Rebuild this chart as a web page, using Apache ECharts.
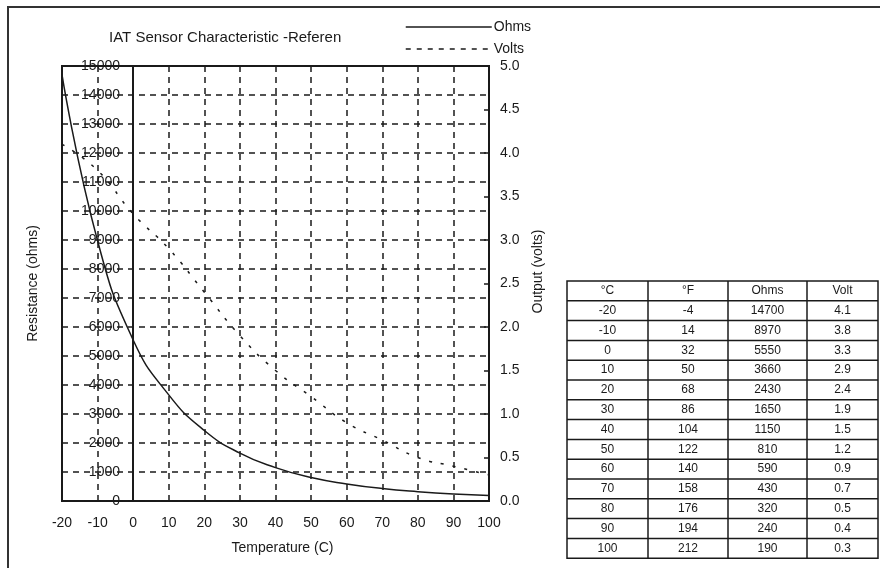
<!DOCTYPE html>
<html>
<head>
<meta charset="utf-8">
<script src="https://cdn.jsdelivr.net/npm/echarts@6/dist/echarts.min.js"></script>
<style>
  html, body { margin: 0; padding: 0; background: #fff; }
  #main { width: 880px; height: 568px; }
</style>
</head>
<body>
<div id="main"></div>
<script>
// 数据
var tempC = [-20, -10, 0, 10, 20, 30, 40, 50, 60, 70, 80, 90, 100];
var tempF = [-4, 14, 32, 50, 68, 86, 104, 122, 140, 158, 176, 194, 212];
var ohms = [14700, 8970, 5550, 3660, 2430, 1650, 1150, 810, 590, 430, 320, 240, 190];
var volts = [4.1, 3.8, 3.3, 2.9, 2.4, 1.9, 1.5, 1.2, 0.9, 0.7, 0.5, 0.4, 0.3];
var tableHead = ['°C', '°F', 'Ohms', 'Volt'];

var FONT = '"Liberation Sans", Arial, sans-serif';
var INK = '#1a1a1a';

var dom = document.getElementById('main');
var myChart = echarts.init(dom);

// 右侧表格
var colX = [567, 648, 728, 807, 878];
var rowTop = 281, rowH = 19.8;
var nRows = tempC.length + 1;
var tableEls = [];
tableEls.push({
  type: 'rect',
  shape: { x: colX[0], y: rowTop, width: colX[4] - colX[0], height: rowH * nRows },
  style: { fill: 'none', stroke: INK, lineWidth: 1.5 }
});
for (var r = 1; r < nRows; r++) {
  tableEls.push({
    type: 'line',
    shape: { x1: colX[0], y1: rowTop + r * rowH, x2: colX[4], y2: rowTop + r * rowH },
    style: { stroke: INK, lineWidth: 1.5 }
  });
}
for (var c = 1; c < 4; c++) {
  tableEls.push({
    type: 'line',
    shape: { x1: colX[c], y1: rowTop, x2: colX[c], y2: rowTop + rowH * nRows },
    style: { stroke: INK, lineWidth: 1.5 }
  });
}
var cols = [tempC, tempF, ohms, volts];
for (var r = 0; r < nRows; r++) {
  for (var c = 0; c < 4; c++) {
    var txt = r == 0 ? tableHead[c] : (c == 3 ? cols[c][r - 1].toFixed(1) : String(cols[c][r - 1]));
    tableEls.push({
      type: 'text',
      x: (colX[c] + colX[c + 1]) / 2,
      y: rowTop + r * rowH + rowH / 2,
      style: {
        text: txt, fill: INK, font: '12px ' + FONT,
        textAlign: 'center', textVerticalAlign: 'middle'
      }
    });
  }
}
// 外框
tableEls.push({
  type: 'rect',
  shape: { x: 8, y: 7, width: 900, height: 620 },
  style: { fill: 'none', stroke: '#333', lineWidth: 2 }
});

var gridDash = { color: INK, width: 1.5, type: [6, 5] };

var option = {
  backgroundColor: '#fff',
  animation: false,
  textStyle: { fontFamily: FONT },
  title: {
    text: 'IAT Sensor Characteristic -Referen',
    left: 104, top: 25,
    textStyle: { fontSize: 15, fontWeight: 'normal', color: INK, fontFamily: FONT }
  },
  legend: {
    orient: 'vertical',
    left: 400, top: 15,
    itemWidth: 86, itemHeight: 14, itemGap: 8,
    itemStyle: { color: 'transparent', borderWidth: 0, opacity: 0 },
    textStyle: { fontSize: 14, color: INK, fontFamily: FONT, padding: [0, 0, 0, -3] },
    data: [
      { name: 'Ohms', lineStyle: { color: INK, width: 1.5, type: 'solid' } },
      { name: 'Volts', lineStyle: { color: INK, width: 1.5, type: [5, 6] } }
    ]
  },
  grid: {
    left: 62, right: 391, top: 66, bottom: 67,
    show: true, borderColor: INK, borderWidth: 2, backgroundColor: 'transparent'
  },
  xAxis: {
    type: 'value', min: -20, max: 100, interval: 10,
    name: 'Temperature (C)', nameLocation: 'middle', nameGap: 40,
    nameTextStyle: { fontSize: 14, color: INK, fontFamily: FONT, padding: [0, 0, 0, 14] },
    axisLine: { show: false },
    axisTick: { show: false },
    axisLabel: { fontSize: 14, color: INK, margin: 15, fontFamily: FONT },
    splitLine: { show: true, lineStyle: gridDash }
  },
  yAxis: [
    {
      type: 'value', min: 0, max: 15000, interval: 1000,
      name: 'Resistance (ohms)', nameLocation: 'middle', nameGap: 22,
      nameTextStyle: { fontSize: 14, color: INK, fontFamily: FONT },
      axisLine: { show: false },
      axisTick: { show: false },
      axisLabel: {
        inside: true, margin: 58, align: 'right', fontSize: 14, color: INK, fontFamily: FONT,
        formatter: function (v) { return String(v); }
      },
      splitLine: { show: true, lineStyle: gridDash }
    },
    {
      type: 'value', min: 0, max: 5, interval: 0.5, position: 'right',
      name: 'Output (volts)', nameLocation: 'middle', nameGap: 42, nameRotate: 90,
      nameTextStyle: { fontSize: 14, color: INK, fontFamily: FONT, padding: [0, 0, 0, 24] },
      axisLine: { show: false },
      axisTick: { show: true, inside: true, length: 5, lineStyle: { color: INK, width: 1.5 } },
      axisLabel: {
        fontSize: 14, color: INK, margin: 11, fontFamily: FONT,
        formatter: function (v) { return v.toFixed(1); }
      },
      splitLine: { show: false }
    }
  ],
  series: [
    {
      name: 'Ohms', type: 'line', yAxisIndex: 0,
      data: tempC.map(function (t, i) { return [t, ohms[i]]; }),
      smooth: true, symbol: 'none',
      itemStyle: { color: INK },
      lineStyle: { color: INK, width: 1.5 },
      markLine: {
        silent: true, symbol: 'none', label: { show: false },
        lineStyle: { color: INK, width: 2, type: 'solid' },
        data: [{ xAxis: 0 }]
      }
    },
    {
      name: 'Volts', type: 'line', yAxisIndex: 1,
      data: tempC.map(function (t, i) { return [t, volts[i]]; }),
      smooth: true, symbol: 'none',
      itemStyle: { color: INK },
      lineStyle: { color: INK, width: 1.5, type: [3, 9] }
    }
  ],
  graphic: tableEls
};

myChart.setOption(option);

window.addEventListener('resize', function () { myChart.resize(); });
</script>
</body>
</html>
